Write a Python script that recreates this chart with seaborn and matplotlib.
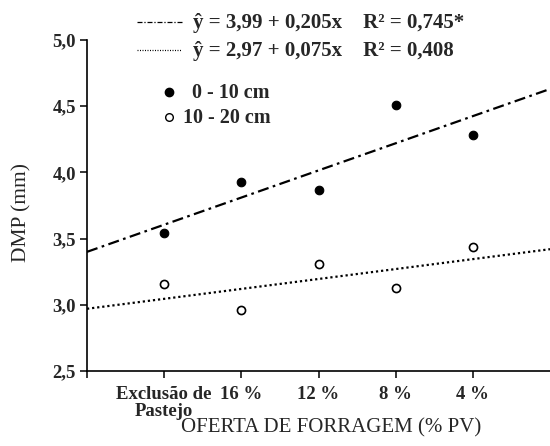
import numpy as np
import pandas as pd
import seaborn as sns
import matplotlib.pyplot as plt
from matplotlib.lines import Line2D

# ---- data ----
categories = ["Exclusão de\nPastejo", "16 %", "12 %", "8 %", "4 %"]
dmp_0_10 = [3.54, 3.93, 3.87, 4.51, 4.28]
dmp_10_20 = [3.16, 2.96, 3.31, 3.13, 3.44]
fit_intercepts = [3.40, 2.97]      # lines as drawn over x = 0..6
fit_slopes = [0.205, 0.075]
fit_labels = ["ŷ = 3,99 + 0,205x    R² = 0,745*",
              "ŷ = 2,97 + 0,075x    R² = 0,408"]
series_labels = ["0 - 10 cm", "10 - 20 cm"]
yticks = [2.5, 3.0, 3.5, 4.0, 4.5, 5.0]
ytick_labels = ["2,5", "3,0", "3,5", "4,0", "4,5", "5,0"]
xlabel = "OFERTA DE FORRAGEM (% PV)"
ylabel = "DMP (mm)"

sns.set_theme(style="ticks")
plt.rcParams['font.family'] = ['Liberation Serif', 'DejaVu Serif']

W, H = 550, 446
fig = plt.figure(figsize=(W / 100, H / 100), dpi=100)
ax = fig.add_axes([87 / W, 1 - 371 / H, (W - 87) / W, (371 - 40) / H])

pos = np.arange(1, len(categories) + 1)
df = pd.DataFrame({"pos": np.concatenate([pos, pos]),
                   "val": dmp_0_10 + dmp_10_20,
                   "layer": [series_labels[0]] * len(pos) + [series_labels[1]] * len(pos)})

# regression lines
xline = np.array([0.0, 6.0])
styles = [dict(dashes=[5, 2, 1.2, 2]), dict(dashes=[1, 1.3])]
for a, b, st in zip(fit_intercepts, fit_slopes, styles):
    ln = sns.lineplot(x=xline, y=a + b * xline, ax=ax, color="black", linewidth=1.6)
    ln.lines[-1].set_dashes(st["dashes"])

sns.scatterplot(data=df[df.layer == series_labels[0]], x="pos", y="val", ax=ax,
                color="black", edgecolor="black", s=38, linewidth=0.8, zorder=5)
sns.scatterplot(data=df[df.layer == series_labels[1]], x="pos", y="val", ax=ax,
                color="white", edgecolor="black", s=34, linewidth=1.2, zorder=5)

ax.set_xlim(0, 6)
ax.set_ylim(2.5, 5.0)
ax.set_yticks(yticks)
ax.set_yticklabels(ytick_labels, fontsize=13.5, fontweight="bold")
ax.set_xticks(np.arange(0, 6))
ax.set_xticklabels([""] + categories, fontsize=13.5, fontweight="bold", linespacing=0.95)
ax.tick_params(axis="both", direction="out", length=5, width=1.1, color="black")
ax.tick_params(axis="x", pad=6)
ax.tick_params(axis="y", pad=3)
ax.set_xlabel("")
ax.set_ylabel("")
for s in ["top", "right"]:
    ax.spines[s].set_visible(False)
for s in ["left", "bottom"]:
    ax.spines[s].set_linewidth(1.2)
    ax.spines[s].set_color("black")

fig.text(331 / W, 1 - 428 / H, xlabel, ha="center", va="center", fontsize=15)
fig.text(22 / W, 1 - 213 / H, ylabel, ha="center", va="center", fontsize=15.5, rotation=90)

# legend (drawn manually in figure pixels)
def fx(px):
    return px / W

def fy(py):
    return 1 - py / H

leg_dashes = [[4, 1.5, 1, 1.5], [0.8, 1.2]]
for i, (lab, dsh) in enumerate(zip(fit_labels, leg_dashes)):
    yl = 22 + i * 28
    l = Line2D([fx(137), fx(182)], [fy(yl), fy(yl)], transform=fig.transFigure,
               color="black", linewidth=0.9)
    l.set_dashes(dsh)
    fig.add_artist(l)
    fig.text(fx(193), fy(yl + 6), lab, ha="left", va="baseline", fontsize=15, fontweight="bold")

fig.add_artist(Line2D([fx(169)], [fy(92)], transform=fig.transFigure, marker="o",
                      markersize=6, color="black", linestyle="none"))
fig.text(fx(192), fy(98), series_labels[0], ha="left", va="baseline", fontsize=14.5, fontweight="bold")
fig.add_artist(Line2D([fx(169)], [fy(117)], transform=fig.transFigure, marker="o",
                      markersize=5.5, markerfacecolor="white", markeredgecolor="black",
                      markeredgewidth=1.0, linestyle="none"))
fig.text(fx(183), fy(123), series_labels[1], ha="left", va="baseline", fontsize=14.5, fontweight="bold")

fig.savefig("out.png", dpi=100)
